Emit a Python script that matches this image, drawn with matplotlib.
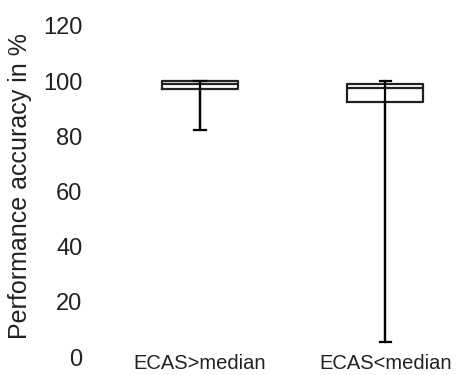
import matplotlib.pyplot as plt

groups = ["ECAS>median", "ECAS<median"]
lows = [82.2, 5.5]
q1s = [97.1, 92.5]
medians = [98.8, 97.5]
q3s = [100.0, 98.9]
highs = [100.0, 100.0]
yticks = [0, 20, 40, 60, 80, 100, 120]

plt.rcParams['font.family'] = ['Liberation Sans', 'DejaVu Sans']

fig = plt.figure(figsize=(4.6, 3.75), dpi=100)
ax = fig.add_axes([88 / 460, 18 / 375, 372 / 460, 331 / 375])

stats = []
for i in range(len(groups)):
    stats.append(dict(label=groups[i], whislo=lows[i], q1=q1s[i], med=medians[i],
                      q3=q3s[i], whishi=highs[i]))

pos = [1, 2]
ax.vlines(pos, lows, highs, color="black", lw=1.6, zorder=3)
ax.bxp(stats, positions=pos, widths=0.41, showfliers=False, capwidths=0.06,
       boxprops=dict(color="#222222", lw=1.6),
       medianprops=dict(color="#222222", lw=1.6),
       whiskerprops=dict(color="black", lw=1.6),
       capprops=dict(color="black", lw=1.6))

ax.set_xlim(0.396, 2.402)
ax.set_ylim(0, 120)
ax.set_yticks(yticks)
ax.set_yticklabels([str(v) for v in yticks], fontsize=17, color="#222222")
ax.set_xticks(pos)
ax.set_xticklabels(groups, fontsize=14.5, color="#222222")
ax.tick_params(axis="y", length=0, pad=4)
ax.tick_params(axis="x", length=0, pad=-2)
for s in ax.spines.values():
    s.set_visible(False)

ax.set_ylabel("Performance accuracy in %", fontsize=18, color="#222222")
ax.yaxis.set_label_coords(-56 / 372, 0.515)

fig.savefig("out.png", dpi=100)
